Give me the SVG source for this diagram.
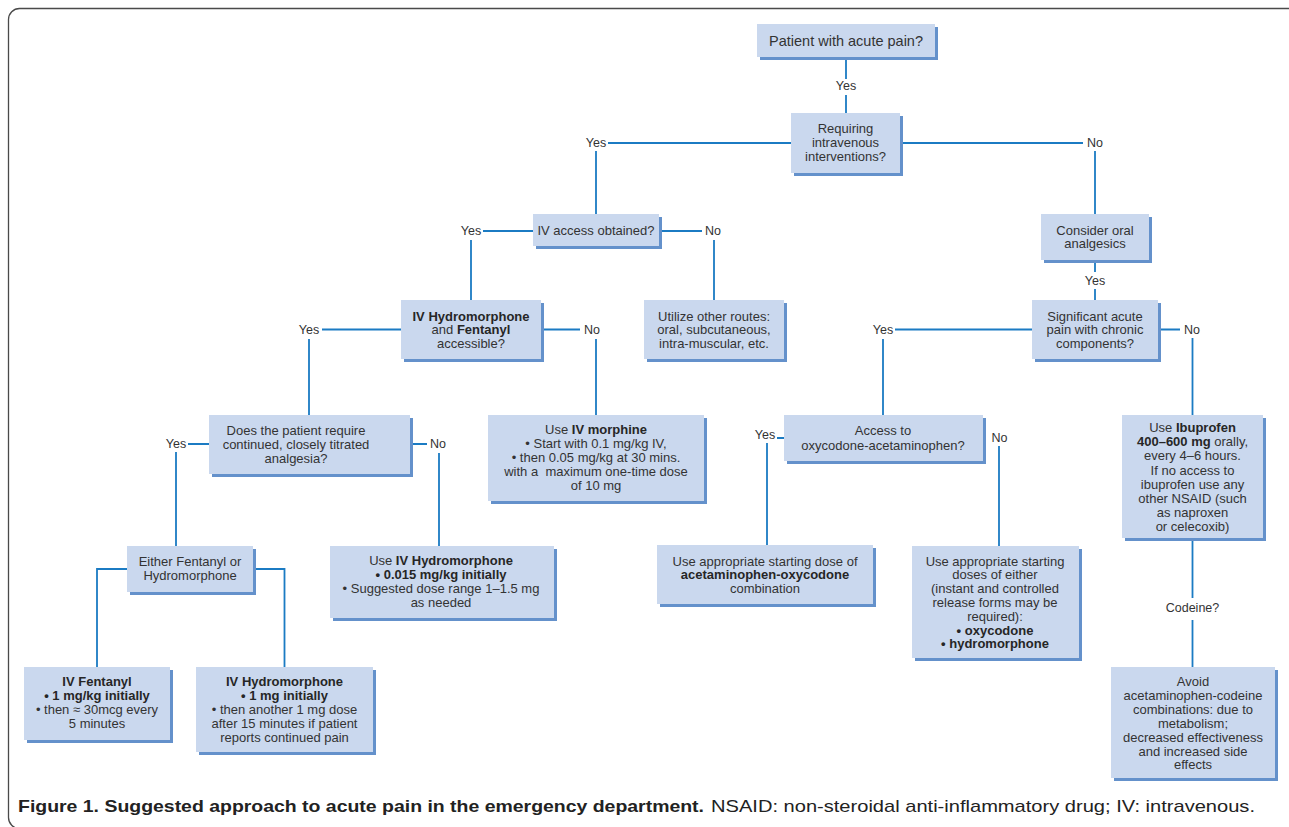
<svg xmlns="http://www.w3.org/2000/svg" width="1289" height="827" viewBox="0 0 1289 827">
<style>
.bg{fill:#ffffff}
.box{fill:#cad8ee}
.sh{fill:#6491cb}
.t{font-family:"Liberation Sans",Arial,sans-serif;font-size:13px;fill:#333333;text-anchor:middle}
.big{font-size:14.5px}
.b{font-weight:bold;fill:#262626}
.lbl{font-family:"Liberation Sans",Arial,sans-serif;font-size:12.5px;fill:#333333;text-anchor:middle}
.c{fill:none;stroke:#1b7bc3;stroke-width:1.8}
.frame{fill:none;stroke:#4a4a4a;stroke-width:1.3}
.cap{font-family:"Liberation Sans",Arial,sans-serif;font-size:17px;fill:#222222}
</style>
<rect class="bg" x="0" y="0" width="1289" height="827"/>
<rect class="frame" x="8.5" y="8.5" width="1310" height="820" rx="11"/>

<g id="connectors">
  <path class="c" d="M846,57 V79 M846,95 V113"/>
  <path class="c" d="M791,143 H608 M596,151 V214"/>
  <path class="c" d="M900,143 H1083 M1095,151 V214"/>
  <path class="c" d="M533,231 H483 M471,240 V300"/>
  <path class="c" d="M659,231 H702 M714,240 V300"/>
  <path class="c" d="M1095,260 V272 M1095,289 V300"/>
  <path class="c" d="M401,329.5 H322 M309,339 V415"/>
  <path class="c" d="M541,329.5 H580 M596,339 V415"/>
  <path class="c" d="M1032,329.5 H895 M883,339 V415"/>
  <path class="c" d="M1158,329.5 H1180 M1192.5,338 V415"/>
  <path class="c" d="M209,444 H188 M176,452 V546"/>
  <path class="c" d="M410,444 H427 M439,453 V546"/>
  <path class="c" d="M784,438 H777 M767,443 V545"/>
  <path class="c" d="M999,446 V546"/>
  <path class="c" d="M1192.5,541 V598 M1192.5,620 V667"/>
  <path class="c" d="M127,569 H97 V667"/>
  <path class="c" d="M253,569 H284.5 V667"/>
  <text class="lbl" x="846" y="90">Yes</text>
  <text class="lbl" x="596" y="147">Yes</text>
  <text class="lbl" x="1095" y="147">No</text>
  <text class="lbl" x="471" y="235">Yes</text>
  <text class="lbl" x="713" y="235">No</text>
  <text class="lbl" x="1095" y="285">Yes</text>
  <text class="lbl" x="309" y="334">Yes</text>
  <text class="lbl" x="592" y="334">No</text>
  <text class="lbl" x="883" y="334">Yes</text>
  <text class="lbl" x="1192" y="334">No</text>
  <text class="lbl" x="176" y="448">Yes</text>
  <text class="lbl" x="438" y="448">No</text>
  <text class="lbl" x="765" y="439">Yes</text>
  <text class="lbl" x="999.5" y="442">No</text>
  <text class="lbl" x="1192.5" y="612">Codeine?</text>
</g>

<g id="n_patient">
  <rect class="sh" x="760" y="27" width="178" height="33"/>
  <rect class="box" x="757" y="24" width="178" height="33"/>
  <text class="t big" x="846" y="45.5">Patient with acute pain?</text>
</g>

<g id="n_requiring">
  <rect class="sh" x="794" y="116" width="109" height="60"/>
  <rect class="box" x="791" y="113" width="109" height="60"/>
  <text class="t" x="845.5" y="133">Requiring</text>
  <text class="t" x="845.5" y="147">intravenous</text>
  <text class="t" x="845.5" y="161">interventions?</text>
</g>

<g id="n_ivaccess">
  <rect class="sh" x="536" y="217" width="126" height="32"/>
  <rect class="box" x="533" y="214" width="126" height="32"/>
  <text class="t" x="596" y="235">IV access obtained?</text>
</g>

<g id="n_consider">
  <rect class="sh" x="1044" y="217" width="108" height="46"/>
  <rect class="box" x="1041" y="214" width="108" height="46"/>
  <text class="t" x="1095" y="234.5">Consider oral</text>
  <text class="t" x="1095" y="248">analgesics</text>
</g>

<g id="n_hydrofent">
  <rect class="sh" x="404" y="303" width="140" height="59"/>
  <rect class="box" x="401" y="300" width="140" height="59"/>
  <text class="t b" x="471" y="320.5">IV Hydromorphone</text>
  <text class="t" x="471" y="334"><tspan>and </tspan><tspan class="b">Fentanyl</tspan></text>
  <text class="t" x="471" y="348">accessible?</text>
</g>

<g id="n_utilize">
  <rect class="sh" x="647" y="303" width="140" height="59"/>
  <rect class="box" x="644" y="300" width="140" height="59"/>
  <text class="t" x="714" y="320.5">Utilize other routes:</text>
  <text class="t" x="714" y="334">oral, subcutaneous,</text>
  <text class="t" x="714" y="348">intra-muscular, etc.</text>
</g>

<g id="n_significant">
  <rect class="sh" x="1035" y="303" width="126" height="59"/>
  <rect class="box" x="1032" y="300" width="126" height="59"/>
  <text class="t" x="1095" y="320.5">Significant acute</text>
  <text class="t" x="1095" y="334">pain with chronic</text>
  <text class="t" x="1095" y="348">components?</text>
</g>

<g id="n_does">
  <rect class="sh" x="212" y="418" width="201" height="59"/>
  <rect class="box" x="209" y="415" width="201" height="59"/>
  <text class="t" x="296" y="435">Does the patient require</text>
  <text class="t" x="296" y="449">continued, closely titrated</text>
  <text class="t" x="296" y="463">analgesia?</text>
</g>

<g id="n_morphine">
  <rect class="sh" x="491" y="418" width="216" height="86"/>
  <rect class="box" x="488" y="415" width="216" height="86"/>
  <text class="t" x="596" y="434"><tspan>Use </tspan><tspan class="b">IV morphine</tspan></text>
  <text class="t" x="596" y="448">• Start with 0.1 mg/kg IV,</text>
  <text class="t" x="596" y="462">• then 0.05 mg/kg at 30 mins.</text>
  <text class="t" x="596" y="476" xml:space="preserve">with a  maximum one-time dose</text>
  <text class="t" x="596" y="490">of 10 mg</text>
</g>

<g id="n_access">
  <rect class="sh" x="787" y="418" width="199" height="46"/>
  <rect class="box" x="784" y="415" width="199" height="46"/>
  <text class="t" x="883" y="435">Access to</text>
  <text class="t" x="883" y="449.5">oxycodone-acetaminophen?</text>
</g>

<g id="n_ibuprofen">
  <rect class="sh" x="1125" y="418" width="141" height="123"/>
  <rect class="box" x="1122" y="415" width="141" height="123"/>
  <text class="t" x="1192.5" y="432"><tspan>Use </tspan><tspan class="b">Ibuprofen</tspan></text>
  <text class="t" x="1192.5" y="446"><tspan class="b">400–600 mg</tspan><tspan> orally,</tspan></text>
  <text class="t" x="1192.5" y="460">every 4–6 hours.</text>
  <text class="t" x="1192.5" y="474.5">If no access to</text>
  <text class="t" x="1192.5" y="488.5">ibuprofen use any</text>
  <text class="t" x="1192.5" y="503">other NSAID (such</text>
  <text class="t" x="1192.5" y="517">as naproxen</text>
  <text class="t" x="1192.5" y="531">or celecoxib)</text>
</g>

<g id="n_either">
  <rect class="sh" x="130" y="549" width="126" height="46"/>
  <rect class="box" x="127" y="546" width="126" height="46"/>
  <text class="t" x="190" y="566">Either Fentanyl or</text>
  <text class="t" x="190" y="580">Hydromorphone</text>
</g>

<g id="n_usehydro">
  <rect class="sh" x="333" y="549" width="224" height="72"/>
  <rect class="box" x="330" y="546" width="224" height="72"/>
  <text class="t" x="441" y="565"><tspan>Use </tspan><tspan class="b">IV Hydromorphone</tspan></text>
  <text class="t b" x="441" y="579">• 0.015 mg/kg initially</text>
  <text class="t" x="441" y="593">• Suggested dose range 1–1.5 mg</text>
  <text class="t" x="441" y="607">as needed</text>
</g>

<g id="n_acetoxy">
  <rect class="sh" x="660" y="548" width="216" height="59"/>
  <rect class="box" x="657" y="545" width="216" height="59"/>
  <text class="t" x="765" y="565.5">Use appropriate starting dose of</text>
  <text class="t b" x="765" y="579">acetaminophen-oxycodone</text>
  <text class="t" x="765" y="593">combination</text>
</g>

<g id="n_eitheroxy">
  <rect class="sh" x="915" y="549" width="167" height="112"/>
  <rect class="box" x="912" y="546" width="167" height="112"/>
  <text class="t" x="995" y="565.5">Use appropriate starting</text>
  <text class="t" x="995" y="579">doses of either</text>
  <text class="t" x="995" y="593">(instant and controlled</text>
  <text class="t" x="995" y="607">release forms may be</text>
  <text class="t" x="995" y="620.5">required):</text>
  <text class="t b" x="995" y="634.5">• oxycodone</text>
  <text class="t b" x="995" y="648">• hydromorphone</text>
</g>

<g id="n_fentanyl">
  <rect class="sh" x="27" y="670" width="146" height="73"/>
  <rect class="box" x="24" y="667" width="146" height="73"/>
  <text class="t b" x="97" y="686">IV Fentanyl</text>
  <text class="t b" x="97" y="700">• 1 mg/kg initially</text>
  <text class="t" x="97" y="714">• then ≈ 30mcg every</text>
  <text class="t" x="97" y="728">5 minutes</text>
</g>

<g id="n_hydromorphone">
  <rect class="sh" x="199" y="670" width="177" height="85"/>
  <rect class="box" x="196" y="667" width="177" height="85"/>
  <text class="t b" x="284.5" y="686">IV Hydromorphone</text>
  <text class="t b" x="284.5" y="700">• 1 mg initially</text>
  <text class="t" x="284.5" y="714">• then another 1 mg dose</text>
  <text class="t" x="284.5" y="728">after 15 minutes if patient</text>
  <text class="t" x="284.5" y="741.5">reports continued pain</text>
</g>

<g id="n_avoid">
  <rect class="sh" x="1114" y="670" width="164" height="111"/>
  <rect class="box" x="1111" y="667" width="164" height="111"/>
  <text class="t" x="1193" y="686">Avoid</text>
  <text class="t" x="1193" y="700">acetaminophen-codeine</text>
  <text class="t" x="1193" y="714">combinations: due to</text>
  <text class="t" x="1193" y="728">metabolism;</text>
  <text class="t" x="1193" y="741.5">decreased effectiveness</text>
  <text class="t" x="1193" y="755.5">and increased side</text>
  <text class="t" x="1193" y="769">effects</text>
</g>

<g id="caption">
  <text class="cap" x="18" y="812" font-weight="bold" textLength="686" lengthAdjust="spacingAndGlyphs">Figure 1. Suggested approach to acute pain in the emergency department.</text>
  <text class="cap" x="711" y="812" textLength="544" lengthAdjust="spacingAndGlyphs">NSAID: non-steroidal anti-inflammatory drug; IV: intravenous.</text>
</g>
</svg>
